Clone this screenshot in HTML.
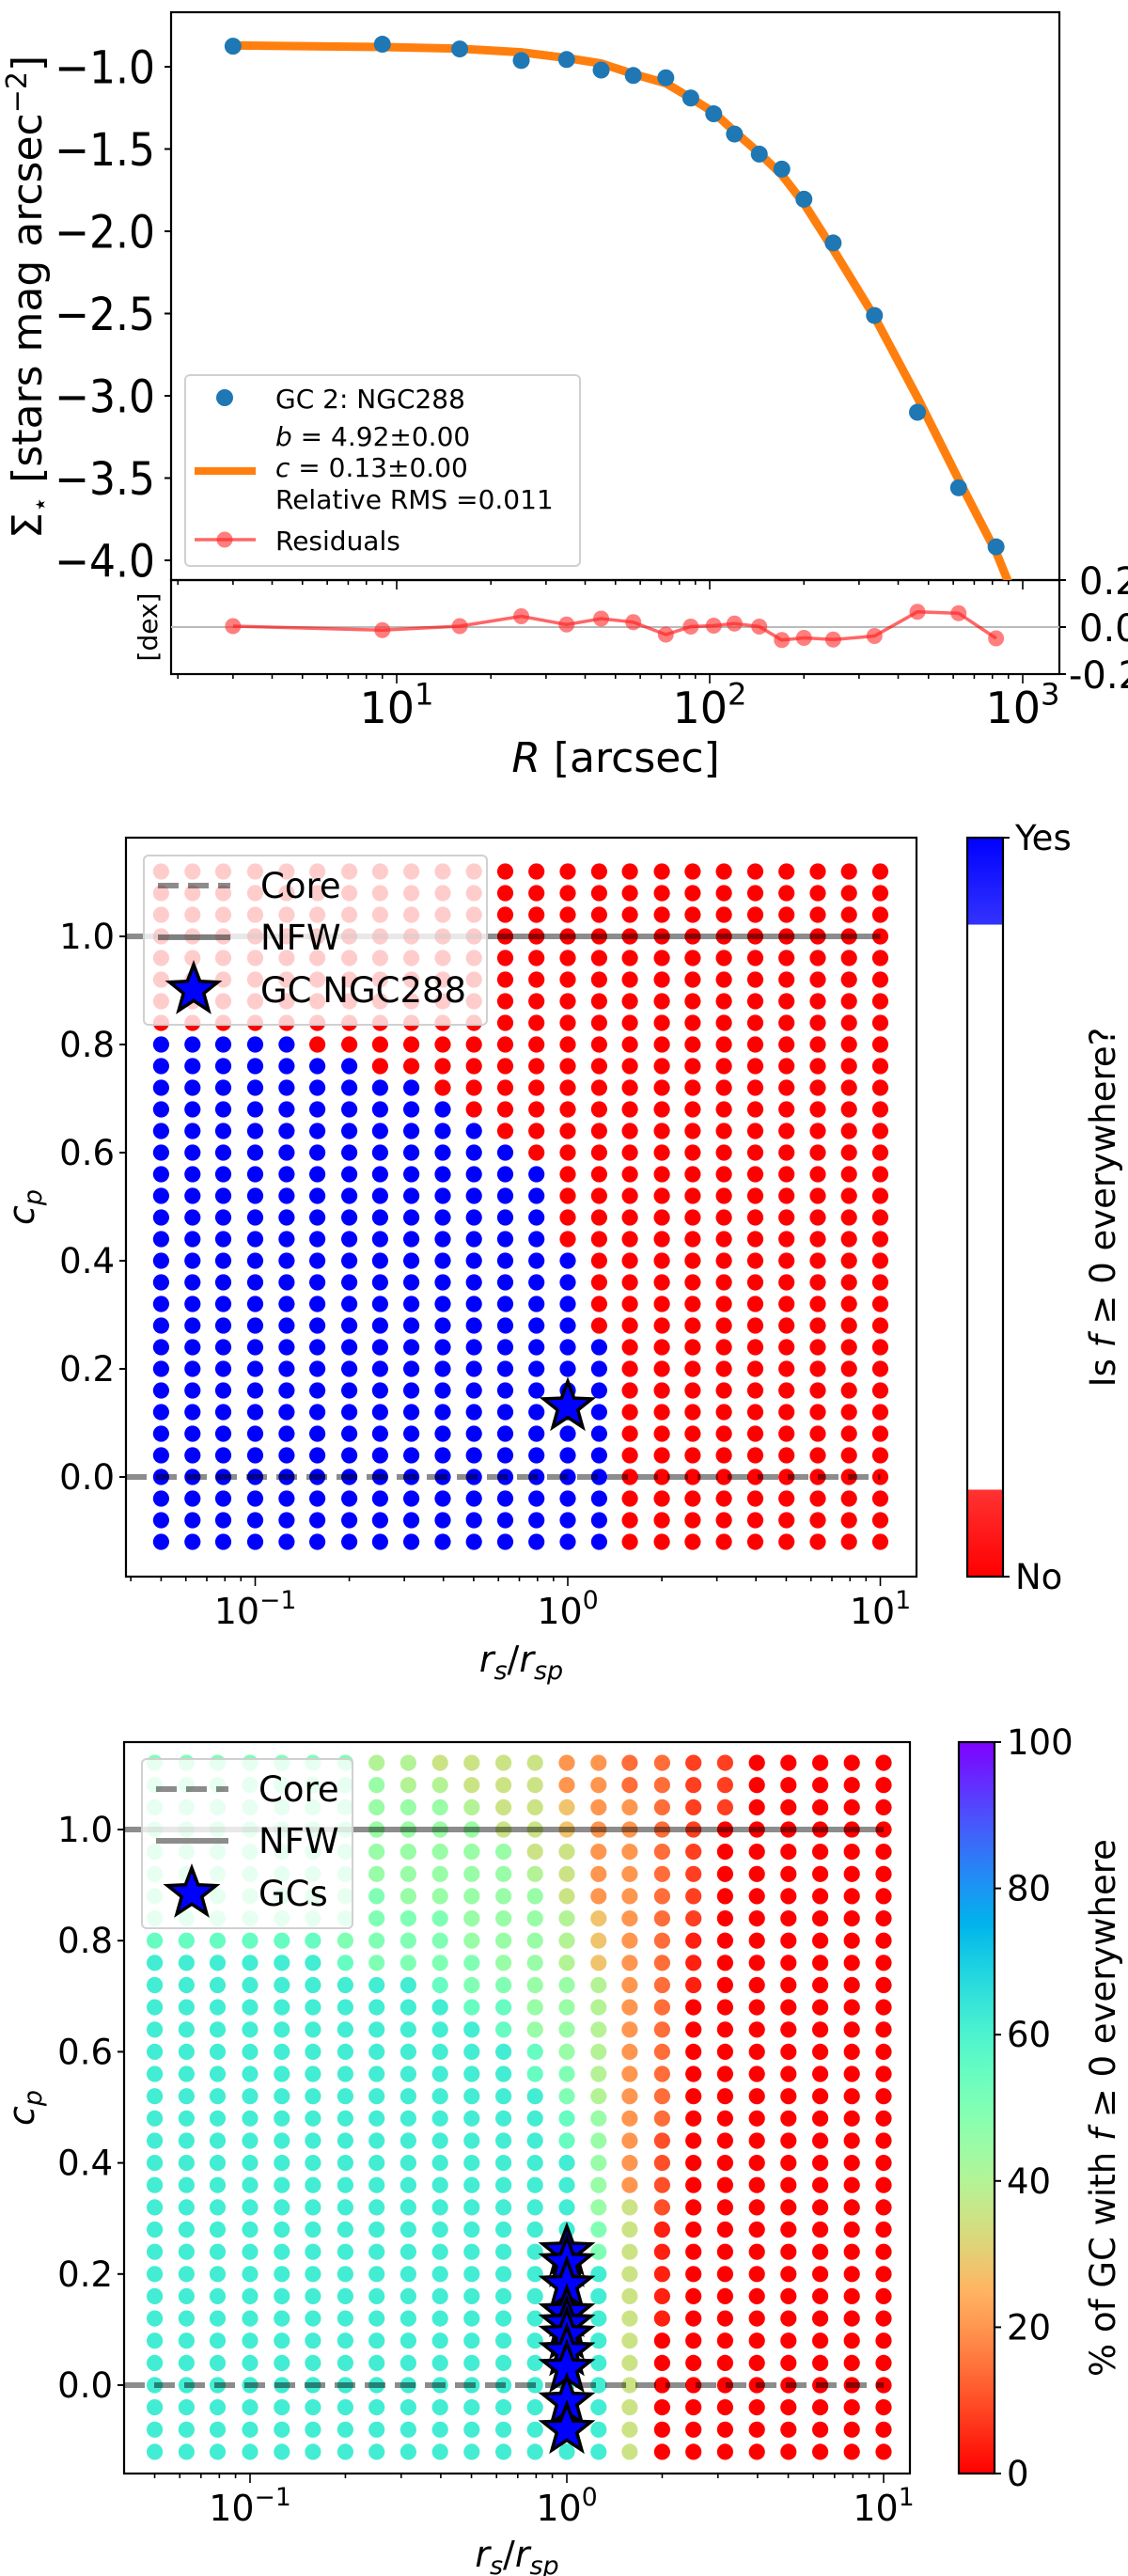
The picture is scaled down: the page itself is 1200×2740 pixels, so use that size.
<!DOCTYPE html>
<html><head><meta charset="utf-8"><style>
html,body{margin:0;padding:0;background:#fff;}
svg{display:block;font-family:"DejaVu Sans","Liberation Sans",sans-serif;}
</style></head><body>
<svg id="fig" width="1200" height="2740" viewBox="0 0 1200 2740" xmlns="http://www.w3.org/2000/svg">
<defs>
<clipPath id="clipMain"><rect x="182" y="13" width="945" height="604"/></clipPath>
<clipPath id="clipRes"><rect x="182" y="617" width="945" height="100"/></clipPath>
<linearGradient id="cb2" x1="0" y1="1" x2="0" y2="0">
<stop offset="0" stop-color="#ff0000"/><stop offset="0.118" stop-color="#ff3333"/><stop offset="0.118" stop-color="#ffffff"/>
<stop offset="0.882" stop-color="#ffffff"/><stop offset="0.882" stop-color="#3333ff"/><stop offset="1" stop-color="#0000ff"/>
</linearGradient>
<linearGradient id="cb3" x1="0" y1="1" x2="0" y2="0"></linearGradient>
</defs>
<g id="p1"></g>
<g id="p2"></g>
<g id="p3"></g>
</svg>
<script>
// ---------- Panel 1 data ----------
const profR = [3.0,9.0,15.9,25,34.9,45,57,72.4,87,103,120,144,170,200,248,336,461,624,822];
const profSigma = [-0.875,-0.863,-0.892,-0.962,-0.956,-1.02,-1.053,-1.067,-1.19,-1.286,-1.409,-1.531,-1.622,-1.805,-2.071,-2.512,-3.10,-3.559,-3.918];
const fitR = [3.0,9.0,15.9,25,34.9,45,57,72.4,87,103,120,144,170,200,248,336,461,624,822,930];
const fitSigma = [-0.87,-0.88,-0.89,-0.912,-0.947,-0.98,-1.044,-1.10,-1.19,-1.277,-1.394,-1.525,-1.657,-1.83,-2.11,-2.52,-3.01,-3.51,-3.95,-4.20];
const residuals = [0.004,-0.013,0.004,0.046,0.011,0.036,0.021,-0.032,0.002,0.006,0.015,0.002,-0.055,-0.046,-0.053,-0.038,0.065,0.059,-0.048];
const p1YTicks = [-1.0,-1.5,-2.0,-2.5,-3.0,-3.5,-4.0];
const p1YTickLabels = ["\u22121.0","\u22121.5","\u22122.0","\u22122.5","\u22123.0","\u22123.5","\u22124.0"];
const p1XDecades = [1,2,3];
const resTicks = [0.2,0.0,-0.2];
const resTickLabels = ["0.2","0.0","-0.2"];
// ---------- Grid data (panels 2 & 3) ----------
const rsValues = [0.05,0.063,0.079,0.1,0.126,0.158,0.2,0.251,0.316,0.398,0.501,0.631,0.794,1,1.26,1.58,2,2.51,3.16,3.98,5.01,6.31,7.94,10];
const cpValues = [1.12,1.08,1.04,1.00,0.96,0.92,0.88,0.84,0.80,0.76,0.72,0.68,0.64,0.60,0.56,0.52,0.48,0.44,0.40,0.36,0.32,0.28,0.24,0.20,0.16,0.12,0.08,0.04,0.00,-0.04,-0.08,-0.12];
const positiveMaxCp = [0.80,0.80,0.80,0.80,0.80,0.76,0.76,0.72,0.72,0.68,0.64,0.60,0.56,0.40,0.24,-1,-1,-1,-1,-1,-1,-1,-1,-1];
const starNGC288 = [1.0, 0.13];
const gcStarCp = [0.24,0.22,0.18,0.13,0.11,0.09,0.06,0.03,-0.03,-0.08];
const pctRows = [
[50,50,50,50,50,50,50,40,40,35,35,35,35,20,20,14,14,8,8,0,0,0,0,0],
[50,50,50,50,50,50,50,45,40,40,35,35,35,20,20,14,14,8,8,0,0,0,0,0],
[50,50,50,50,50,50,50,45,45,45,40,35,35,28,20,20,14,8,8,0,0,0,0,0],
[50,50,50,50,50,50,50,45,45,45,45,35,35,28,20,20,14,8,0,0,0,0,0,0],
[50,50,50,50,50,50,50,45,45,45,45,45,35,35,20,20,14,8,0,0,0,0,0,0],
[50,50,50,50,50,50,50,45,45,45,45,45,40,35,20,20,14,8,0,0,0,0,0,0],
[50,50,50,50,50,50,50,50,45,45,45,45,45,35,20,20,14,8,0,0,0,0,0,0],
[50,50,50,50,50,50,50,50,50,50,45,45,45,40,28,20,14,8,0,0,0,0,0,0],
[55,55,55,55,55,55,50,50,50,50,45,45,45,40,28,20,14,4,0,0,0,0,0,0],
[62,62,62,62,62,62,55,50,50,50,50,45,45,40,28,20,14,4,0,0,0,0,0,0],
[62,62,62,62,62,62,62,62,62,55,50,50,45,45,40,20,14,4,0,0,0,0,0,0],
[62,62,62,62,62,62,62,62,62,62,55,55,45,45,40,20,14,0,0,0,0,0,0,0],
[62,62,62,62,62,62,62,62,62,62,62,55,45,45,40,20,14,0,0,0,0,0,0,0],
[62,62,62,62,62,62,62,62,62,62,62,62,55,45,40,20,14,0,0,0,0,0,0,0],
[62,62,62,62,62,62,62,62,62,62,62,62,55,50,40,20,14,0,0,0,0,0,0,0],
[62,62,62,62,62,62,62,62,62,62,62,62,62,50,40,20,14,0,0,0,0,0,0,0],
[62,62,62,62,62,62,62,62,62,62,62,62,62,55,45,20,14,0,0,0,0,0,0,0],
[62,62,62,62,62,62,62,62,62,62,62,62,62,55,45,20,10,0,0,0,0,0,0,0],
[62,62,62,62,62,62,62,62,62,62,62,62,62,62,45,20,10,0,0,0,0,0,0,0],
[62,62,62,62,62,62,62,62,62,62,62,62,62,62,45,20,10,0,0,0,0,0,0,0],
[62,62,62,62,62,62,62,62,62,62,62,62,62,62,45,35,10,0,0,0,0,0,0,0],
[62,62,62,62,62,62,62,62,62,62,62,62,62,62,50,35,4,0,0,0,0,0,0,0],
[62,62,62,62,62,62,62,62,62,62,62,62,62,62,50,35,4,0,0,0,0,0,0,0],
[62,62,62,62,62,62,62,62,62,62,62,62,62,62,62,35,4,0,0,0,0,0,0,0],
[62,62,62,62,62,62,62,62,62,62,62,62,62,62,62,35,4,0,0,0,0,0,0,0],
[62,62,62,62,62,62,62,62,62,62,62,62,62,62,62,35,4,0,0,0,0,0,0,0],
[62,62,62,62,62,62,62,62,62,62,62,62,62,62,62,35,0,0,0,0,0,0,0,0],
[62,62,62,62,62,62,62,62,62,62,62,62,62,62,62,35,0,0,0,0,0,0,0,0],
[62,62,62,62,62,62,62,62,62,62,62,62,62,62,62,35,0,0,0,0,0,0,0,0],
[62,62,62,62,62,62,62,62,62,62,62,62,62,62,62,35,0,0,0,0,0,0,0,0],
[62,62,62,62,62,62,62,62,62,62,62,62,62,62,62,35,0,0,0,0,0,0,0,0],
[62,62,62,62,62,62,62,62,62,62,62,62,62,62,62,35,0,0,0,0,0,0,0,0]
];
const cpTicks = [0.0,0.2,0.4,0.6,0.8,1.0];
const cpTickLabels = ["0.0","0.2","0.4","0.6","0.8","1.0"];
const rsDecades = [-1,0,1];
const cb3Ticks = [0,20,40,60,80,100];

const NS = "http://www.w3.org/2000/svg";
function mk(parent, tag, attrs){const e=document.createElementNS(NS,tag);for(const k in attrs)e.setAttribute(k,attrs[k]);parent.appendChild(e);return e;}
function txt(parent, x, y, s, size, anchor){const e=mk(parent,"text",{x:x,y:y,"font-size":size,"text-anchor":anchor||"start",fill:"#000"});e.textContent=s;return e;}
function sup(parent, x, y, base, exp, size){
  const e=mk(parent,"text",{x:x,y:y,"font-size":size,"text-anchor":"middle",fill:"#000"});
  const a=document.createElementNS(NS,"tspan");a.textContent=base;e.appendChild(a);
  const b=document.createElementNS(NS,"tspan");b.setAttribute("dy",-size*0.42);b.setAttribute("font-size",size*0.7);b.textContent=exp;e.appendChild(b);
  return e;}
function starPath(cx,cy,R){const r=R*0.42;let d="";for(let k=0;k<10;k++){const rr=k%2?r:R;const a=-Math.PI/2+k*Math.PI/5;d+=(k?"L":"M")+(cx+rr*Math.cos(a)).toFixed(1)+","+(cy+rr*Math.sin(a)).toFixed(1);}return d+"Z";}
function rainbowR(p){const u=1-p/100;const r=Math.min(1,Math.abs(2*u-0.5)),g=Math.max(0,Math.sin(Math.PI*u)),b=Math.max(0,Math.cos(Math.PI*u/2));return "rgb("+Math.round(r*255)+","+Math.round(g*255)+","+Math.round(b*255)+")";}

// ================= Panel 1 =================
const p1=document.getElementById("p1");
const x1=r=>422+(Math.log10(r)-1)*333;
const y1=v=>71+(-1-v)*175;
const yr=v=>667-v*250;
// frames
let e;
e=mk(p1,"rect",{x:182,y:13,width:945,height:604,fill:"none",stroke:"#000","stroke-width":2.2});


e=mk(p1,"rect",{x:182,y:617,width:945,height:100,fill:"none",stroke:"#000","stroke-width":2.2});


// fit line
const gMain=mk(p1,"g",{"clip-path":"url(#clipMain)"});
e=mk(gMain,"polyline",{points:fitR.map((r,i)=>x1(r).toFixed(1)+","+y1(fitSigma[i]).toFixed(1)).join(" "),fill:"none",stroke:"#ff7f0e","stroke-width":9,"stroke-linejoin":"round"});


profR.forEach((r,i)=>{
  const c=mk(gMain,"circle",{cx:x1(r),cy:y1(profSigma[i]),r:9,fill:"#1f77b4"});
  
  
});
// y ticks main
p1YTicks.forEach((v,i)=>{
  mk(p1,"line",{x1:175,x2:182,y1:y1(v),y2:y1(v),stroke:"#000","stroke-width":2});
  const t=txt(p1,165,y1(v)+16,p1YTickLabels[i],44,"end");
  t.setAttribute("transform","translate(0,"+(y1(v))+") scale(1,1.1) translate(0,"+(-y1(v))+")");
  
  
});
// residual panel
mk(p1,"line",{x1:182,x2:1127,y1:yr(0),y2:yr(0),stroke:"#bbb","stroke-width":2});
const gRes=mk(p1,"g",{"clip-path":"url(#clipRes)"});
e=mk(gRes,"polyline",{points:profR.map((r,i)=>x1(r).toFixed(1)+","+yr(residuals[i]).toFixed(1)).join(" "),fill:"none",stroke:"rgba(255,0,0,0.6)","stroke-width":3.5});


profR.forEach((r,i)=>{
  const c=mk(gRes,"circle",{cx:x1(r),cy:yr(residuals[i]),r:8.5,fill:"rgba(255,40,40,0.6)"});
  
  
});
resTicks.forEach((v,i)=>{
  mk(p1,"line",{x1:1127,x2:1134,y1:yr(v),y2:yr(v),stroke:"#000","stroke-width":2});
  const t=txt(p1,i==2?1137:1148,yr(v)+15,resTickLabels[i],40,"start");
  
  
});
// x ticks (log)
for(let d=0;d<=3;d++){for(let m=1;m<10;m++){const r=m*Math.pow(10,d);const xx=x1(r);if(xx<182||xx>1127)continue;const L=m==1?10:5;
  mk(p1,"line",{x1:xx,x2:xx,y1:617,y2:617+L,stroke:"#000","stroke-width":1.6});
  mk(p1,"line",{x1:xx,x2:xx,y1:717,y2:717+L,stroke:"#000","stroke-width":1.6});}}
p1XDecades.forEach(d=>{
  const t=sup(p1,x1(Math.pow(10,d)),769,"10",String(d),46);
  
  
});
e=mk(p1,"text",{x:655,y:821,"font-size":44,"text-anchor":"middle"});
e.innerHTML='<tspan font-style="italic">R</tspan> [arcsec]';


e=mk(p1,"text",{x:0,y:0,"font-size":44,"text-anchor":"middle",transform:"translate(44,316) rotate(-90)"});
e.innerHTML='Σ<tspan font-size="28" dy="8">⋆</tspan><tspan dy="-8"> [stars mag arcsec</tspan><tspan font-size="30" dy="-16">−2</tspan><tspan dy="16">]</tspan>';


e=mk(p1,"text",{x:0,y:0,"font-size":28,"text-anchor":"middle",transform:"translate(167,667) rotate(-90)"});
e.textContent="[dex]";


// legend
const lg1=mk(p1,"g",{});


mk(lg1,"rect",{x:197,y:399,width:420,height:203,rx:5,fill:"rgba(255,255,255,0.8)",stroke:"#d0d0d0","stroke-width":2});
mk(lg1,"circle",{cx:239,cy:423,r:9,fill:"#1f77b4"});
e=txt(lg1,293,434,"GC 2: NGC288",28);


mk(lg1,"line",{x1:207,x2:272,y1:501,y2:501,stroke:"#ff7f0e","stroke-width":8});
e=mk(lg1,"text",{x:293,y:474,"font-size":28});e.innerHTML='<tspan font-style="italic">b</tspan> = 4.92±0.00';


e=mk(lg1,"text",{x:293,y:507,"font-size":28});e.innerHTML='<tspan font-style="italic">c</tspan> = 0.13±0.00';


e=txt(lg1,293,541,"Relative RMS =0.011",28);


mk(lg1,"line",{x1:207,x2:272,y1:574,y2:574,stroke:"rgba(255,0,0,0.6)","stroke-width":3.5});
mk(lg1,"circle",{cx:239,cy:574,r:8.5,fill:"rgba(255,40,40,0.6)"});
e=txt(lg1,293,585,"Residuals",28);



// ================= Grid panels =================
function gridPanel(g, A, colorFn, legendLabel, stars, cb){
  const X=v=>A.x0+Math.log10(v)*A.dec, Y=c=>A.y0-c*A.unit;
  let f=mk(g,"rect",{x:A.L,y:A.T,width:A.R-A.L,height:A.B-A.T,fill:"#fff"});
  cpValues.forEach((cp,j)=>{rsValues.forEach((rs,i)=>{
    const c=mk(g,"circle",{cx:X(rs).toFixed(1),cy:Y(cp).toFixed(1),r:8.6,fill:colorFn(i,j)});
    
    
  });});
  let l=mk(g,"line",{x1:A.L,x2:X(10),y1:Y(1),y2:Y(1),stroke:"rgba(0,0,0,0.45)","stroke-width":6});
  
  
  l=mk(g,"line",{x1:A.L,x2:X(10),y1:Y(0),y2:Y(0),stroke:"rgba(0,0,0,0.45)","stroke-width":6,"stroke-dasharray":"22,10"});
  
  
  stars.forEach(cp=>{
    const s=mk(g,"path",{d:starPath(X(1),Y(cp),27),fill:"#0000ff",stroke:"#000","stroke-width":3.5,"stroke-linejoin":"miter"});
    
    
  });
  f=mk(g,"rect",{x:A.L,y:A.T,width:A.R-A.L,height:A.B-A.T,fill:"none",stroke:"#000","stroke-width":2.2});
  
  
  cpTicks.forEach((v,i)=>{
    mk(g,"line",{x1:A.L-7,x2:A.L,y1:Y(v),y2:Y(v),stroke:"#000","stroke-width":2});
    const t=txt(g,A.L-12,Y(v)+13,cpTickLabels[i],37,"end");
    
    
  });
  for(let d=-2;d<=1;d++){for(let m=1;m<10;m++){const v=m*Math.pow(10,d);const xx=X(v);if(xx<A.L||xx>A.R)continue;
    mk(g,"line",{x1:xx,x2:xx,y1:A.B,y2:A.B+(m==1?10:5),stroke:"#000","stroke-width":1.6});}}
  rsDecades.forEach(d=>{
    const t=sup(g,X(Math.pow(10,d)),A.B+50,"10",d<0?"\u2212"+(-d):String(d),38);
    
    
  });
  let t=mk(g,"text",{x:(A.L+A.R)/2,y:A.xlabY,"font-size":38,"text-anchor":"middle","font-style":"italic"});
  t.innerHTML='r<tspan font-size="27" dy="8">s</tspan><tspan dy="-8" font-style="normal">/</tspan>r<tspan font-size="27" dy="8">sp</tspan>';
  
  
  t=mk(g,"text",{x:0,y:0,"font-size":38,"text-anchor":"middle","font-style":"italic",transform:"translate("+36+","+((A.T+A.B)/2)+") rotate(-90)"});
  t.innerHTML='c<tspan font-size="27" dy="8">p</tspan>';
  
  
  // legend
  const lg=mk(g,"g",{});
  
  
  mk(lg,"rect",{x:A.lgx,y:A.lgy,width:A.lgw,height:180,rx:5,fill:"rgba(255,255,255,0.8)",stroke:"#d0d0d0","stroke-width":2});
  mk(lg,"line",{x1:A.lgx+15,x2:A.lgx+92,y1:A.lgy+32,y2:A.lgy+32,stroke:"rgba(0,0,0,0.45)","stroke-width":6,"stroke-dasharray":"22,10"});
  let lt=txt(lg,A.lgx+124,A.lgy+45,"Core",37);
  
  
  mk(lg,"line",{x1:A.lgx+15,x2:A.lgx+92,y1:A.lgy+87,y2:A.lgy+87,stroke:"rgba(0,0,0,0.45)","stroke-width":6});
  lt=txt(lg,A.lgx+124,A.lgy+100,"NFW",37);
  
  
  mk(lg,"path",{d:starPath(A.lgx+53,A.lgy+143,27),fill:"#0000ff",stroke:"#000","stroke-width":3.5});
  lt=txt(lg,A.lgx+124,A.lgy+156,legendLabel,37);
  
  
  // colorbar
  const cbg=mk(g,"g",{});
  
  
  mk(cbg,"rect",{x:cb.x,y:A.T,width:cb.w,height:A.B-A.T,fill:cb.fill,stroke:"#000","stroke-width":2.2});
  cb.ticks.forEach((tk,i)=>{
    const yy=A.B-(A.B-A.T)*tk.f;
    mk(cbg,"line",{x1:cb.x+cb.w,x2:cb.x+cb.w+7,y1:yy,y2:yy,stroke:"#000","stroke-width":2});
    const tt=txt(cbg,cb.x+cb.w+13,yy+13,tk.s,37);
    
    
  });
  t=mk(g,"text",{x:0,y:0,"font-size":37,"text-anchor":"middle",transform:"translate("+cb.lx+","+((A.T+A.B)/2)+") rotate(-90)"});
  t.innerHTML=cb.label;
  
  
}
// Panel 2
gridPanel(document.getElementById("p2"),
 {L:134,R:975,T:891,B:1677,x0:604,dec:332.5,y0:1571,unit:575,xlabY:1778,lgx:153,lgy:910,lgw:365},
 (i,j)=>cpValues[j]<=positiveMaxCp[i]+1e-9?"#0000ff":"#ff0000",
 "GC NGC288",[starNGC288[1]],
 {x:1029,w:38,fill:"url(#cb2)",lx:1186,ticks:[{f:1,s:"Yes"},{f:0,s:"No"}],
  label:'Is <tspan font-style="italic">f</tspan> ≥ 0 everywhere?'});
// Panel 3 colorbar gradient
const g3=document.getElementById("cb3");
for(let k=0;k<=20;k++){const s=document.createElementNS(NS,"stop");s.setAttribute("offset",k/20);s.setAttribute("stop-color",rainbowR(k*5));g3.appendChild(s);}
gridPanel(document.getElementById("p3"),
 {L:132,R:968,T:1853,B:2631,x0:603,dec:337,y0:2537,unit:591,xlabY:2730,lgx:151,lgy:1871,lgw:224},
 (i,j)=>rainbowR(pctRows[j][i]),
 "GCs",gcStarCp,
 {x:1020,w:38,fill:"url(#cb3)",lx:1186,ticks:cb3Ticks.map(v=>({f:v/100,s:String(v)})),
  label:'% of GC with <tspan font-style="italic">f</tspan> ≥ 0 everywhere'});
</script>
</body></html>
